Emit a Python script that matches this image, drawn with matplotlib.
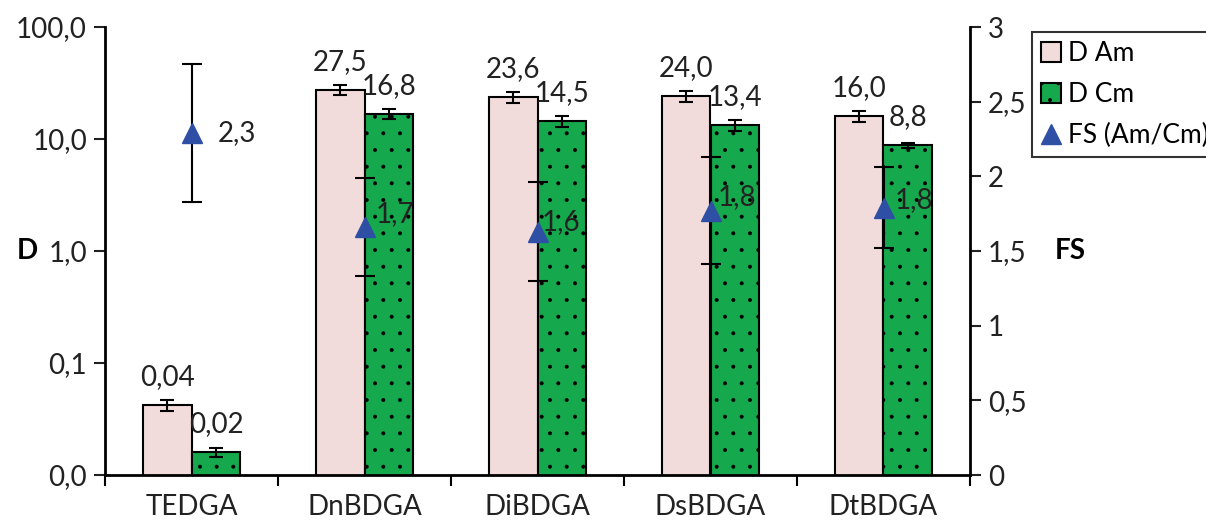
import matplotlib
matplotlib.use("Agg")
import matplotlib.pyplot as plt
from matplotlib.ticker import FuncFormatter, FixedLocator, NullLocator
from matplotlib.lines import Line2D
from matplotlib.patches import Patch
import numpy as np

categories = ["TEDGA", "DnBDGA", "DiBDGA", "DsBDGA", "DtBDGA"]
d_am = [0.042, 27.5, 23.6, 24.0, 16.0]
d_am_err = [0.0046, 2.9, 2.6, 2.6, 1.8]
d_cm = [0.016, 16.8, 14.5, 13.4, 8.8]
d_cm_err = [0.0016, 1.8, 1.6, 1.5, 0.45]
d_am_labels = ["0,04", "27,5", "23,6", "24,0", "16,0"]
d_cm_labels = ["0,02", "16,8", "14,5", "13,4", "8,8"]
fs = [2.29, 1.66, 1.63, 1.77, 1.79]
fs_err = [0.46, 0.33, 0.33, 0.36, 0.27]
fs_labels = ["2,3", "1,7", "1,6", "1,8", "1,8"]
left_ticks = [0.01, 0.1, 1, 10, 100]
right_ticks = [0, 0.5, 1, 1.5, 2, 2.5, 3]

# style
fs_label_offsets = [(26, 0), (11, 13), (4, 10), (7, 14), (11, 8)]
FONT = "Lato"
FSZ = 20
PINK = "#f2dcdb"
GREEN = "#16a84c"
BLUE = "#2e4fa3"
TXT = "#222222"

plt.rcParams['font.family'] = [FONT, 'DejaVu Sans']
plt.rcParams['hatch.linewidth'] = 0.4

fig = plt.figure(figsize=(12.06, 5.26), dpi=100)
ax = fig.add_axes([105/1206, 1-475/526, (970-105)/1206, (475-27)/526])
ax2 = ax.twinx()

x = np.arange(len(categories))
w = 0.283

ax.set_yscale('log')
ax.bar(x - w/2, d_am, w, color=PINK, edgecolor='black', linewidth=1.5, zorder=2)
ax.bar(x + w/2, d_cm, w, color=GREEN, edgecolor='black', linewidth=1.5, hatch='.', zorder=2)
ax.errorbar(x - w/2, d_am, yerr=d_am_err, fmt='none', ecolor='black', elinewidth=1.5, capsize=5, capthick=1.5, zorder=3)
ax.errorbar(x + w/2, d_cm, yerr=d_cm_err, fmt='none', ecolor='black', elinewidth=1.5, capsize=5, capthick=1.5, zorder=3)

for xi, v, lab in zip(x - w/2, d_am, d_am_labels):
    ax.annotate(lab, (xi, v), xytext=(0, 28), textcoords='offset pixels', ha='center', va='center', fontsize=FSZ, color=TXT)
for xi, v, lab in zip(x + w/2, d_cm, d_cm_labels):
    ax.annotate(lab, (xi, v), xytext=(0, 28), textcoords='offset pixels', ha='center', va='center', fontsize=FSZ, color=TXT)

ax.set_ylim(0.01, 100)
ax.set_xlim(-0.5, len(categories) - 0.5)
ax.yaxis.set_major_locator(FixedLocator(left_ticks))
ax.yaxis.set_minor_locator(NullLocator())
ax.yaxis.set_major_formatter(FuncFormatter(lambda v, p: f"{v:.1f}".replace('.', ',')))
ax.set_xticks(x)
ax.set_xticklabels(categories)
ax.xaxis.set_minor_locator(FixedLocator(np.arange(len(categories) + 1) - 0.5))
ax.tick_params(axis='x', which='major', length=0, pad=14, labelsize=FSZ, colors=TXT)
ax.tick_params(axis='x', which='minor', length=8, width=1.5, direction='out')
ax.tick_params(axis='y', which='major', length=8, width=1.5, direction='out', labelsize=FSZ, pad=5, colors=TXT)
for s in ['left', 'bottom']:
    ax.spines[s].set_linewidth(2)
ax.spines['top'].set_visible(False)
ax.spines['right'].set_visible(False)
ax.set_ylabel("D", fontsize=FSZ, fontweight='bold', rotation=0, va='center', ha='left')
ax.yaxis.set_label_coords(-0.102, 0.5)

ax2.errorbar(x, fs, yerr=fs_err, fmt='^', color=BLUE, markersize=15, ecolor='black', elinewidth=1.5, capsize=7, capthick=1.5, zorder=4)
for xi, v, lab, off in zip(x, fs, fs_labels, fs_label_offsets):
    ax2.annotate(lab, (xi, v), xytext=(off[0], off[1]), textcoords='offset pixels', ha='left', va='center', fontsize=FSZ, color=TXT)
ax2.set_ylim(0, 3)
ax2.yaxis.set_major_locator(FixedLocator(right_ticks))
ax2.yaxis.set_major_formatter(FuncFormatter(lambda v, p: ('%g' % v).replace('.', ',')))
ax2.tick_params(axis='y', length=8, width=1.5, direction='out', labelsize=FSZ, pad=5, colors=TXT)
ax2.spines['right'].set_linewidth(2)
ax2.spines['top'].set_visible(False)
ax2.spines['left'].set_visible(False)
ax2.spines['bottom'].set_visible(False)
ax2.set_ylabel("FS", fontsize=FSZ, fontweight='bold', rotation=0, va='center', ha='left')
ax2.yaxis.set_label_coords(1.098, 0.5)

handles = [Patch(facecolor=PINK, edgecolor='black', linewidth=1.5),
           Patch(facecolor=GREEN, edgecolor='black', linewidth=1.5, hatch='.'),
           Line2D([], [], marker='^', linestyle='none', color=BLUE, markersize=14)]
leg = fig.legend(handles, ["D Am", "D Cm", "FS (Am/Cm)"], loc='upper left',
                 bbox_to_anchor=(1032/1206, 1-32/526), fontsize=19, frameon=True,
                 fancybox=False, edgecolor='black', handlelength=0.75, handleheight=0.75,
                 handletextpad=0.25, borderpad=0.35, labelspacing=0.6, borderaxespad=0)
leg.get_frame().set_linewidth(1.5)

fig.savefig("out.png", dpi=100, facecolor='white')
